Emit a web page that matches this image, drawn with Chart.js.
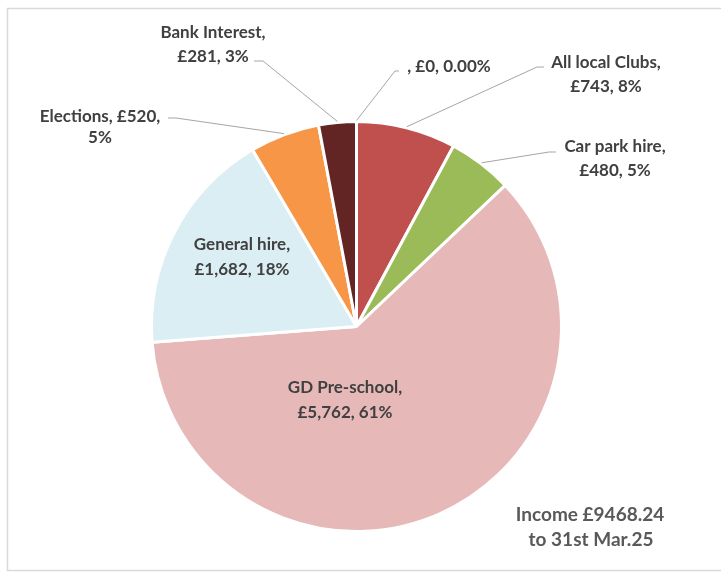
<!DOCTYPE html>
<html>
<head>
<meta charset="utf-8">
<script src="https://cdn.jsdelivr.net/npm/chart.js@4"></script>
<style>
  html, body { margin: 0; padding: 0; background: #ffffff; }
  #wrap { width: 721px; height: 578px; position: relative; }
</style>
</head>
<body>
<div id="wrap"><canvas id="c" width="721" height="578"></canvas></div>
<script>
// ---- data (clockwise from 12 o'clock) ----
const categories = ["", "All local Clubs", "Car park hire", "GD Pre-school", "General hire", "Elections", "Bank Interest"];
const values = [0, 743, 480, 5762, 1682, 520, 281];
const sliceColors = ["#c0504d", "#c0504d", "#9bbb59", "#e6b9b8", "#dbeef4", "#f79646", "#632523"];
const noteLines = ["Income £9468.24", "to 31st Mar.25"];

// ---- label layout (text placement only) ----
// cx, cy: centre of first line; gap: line spacing; split: parts on first line
// line: [startX, startY, elbowX] or null
const labelLayout = [
  { cx: 449, cy: 67, gap: 24, split: 3, line: [399, 71, 395] },
  { cx: 606, cy: 63, gap: 24, split: 1, line: [544, 67, 537] },
  { cx: 615, cy: 147, gap: 24, split: 1, line: [556, 152, 549] },
  { cx: 345, cy: 388, gap: 25, split: 1, line: null },
  { cx: 242, cy: 245, gap: 25, split: 1, line: null },
  { cx: 100, cy: 117, gap: 21, split: 2, line: [168, 118, 176] },
  { cx: 213, cy: 33, gap: 24, split: 1, line: [254, 61, 263] }
];

const total = values.reduce((a, b) => a + b, 0);

function labelParts(i) {
  const v = values[i];
  const pct = v === 0 ? "0.00" : String(Math.round(v / total * 100));
  return [categories[i] + ",", "£" + v.toLocaleString("en-GB") + ",", pct + "%"];
}

const frameAndText = {
  id: "frameAndText",
  beforeDraw(chart) {
    const ctx = chart.ctx;
    ctx.save();
    ctx.fillStyle = "#ffffff";
    ctx.fillRect(0, 0, chart.width, chart.height);
    ctx.strokeStyle = "#d9d9d9";
    ctx.lineWidth = 1.5;
    ctx.strokeRect(7.5, 8.5, 760, 562);
    ctx.restore();
  },
  afterDatasetsDraw(chart) {
    const ctx = chart.ctx;
    const meta = chart.getDatasetMeta(0);
    ctx.save();
    ctx.font = "bold 17px Lato";
    ctx.fillStyle = "#404040";
    ctx.textAlign = "center";
    ctx.textBaseline = "middle";
    meta.data.forEach((arc, i) => {
      const L = labelLayout[i];
      const p = arc.getProps(["x", "y", "startAngle", "endAngle", "outerRadius"], true);
      if (L.line) {
        const mid = (p.startAngle + p.endAngle) / 2;
        const ex = p.x + Math.cos(mid) * (p.outerRadius + 1);
        const ey = p.y + Math.sin(mid) * (p.outerRadius + 1);
        ctx.strokeStyle = "#a6a6a6";
        ctx.lineWidth = 1;
        ctx.beginPath();
        ctx.moveTo(L.line[0], L.line[1]);
        ctx.lineTo(L.line[2], L.line[1]);
        ctx.lineTo(ex, ey);
        ctx.stroke();
      }
      const parts = labelParts(i);
      const l1 = parts.slice(0, L.split).join(" ");
      const l2 = parts.slice(L.split).join(" ");
      ctx.fillText(l1, L.cx, L.cy);
      if (l2) ctx.fillText(l2, L.cx, L.cy + L.gap);
    });
    ctx.font = "bold 19px Lato";
    ctx.fillStyle = "#595959";
    ctx.fillText(noteLines[0], 590, 515);
    ctx.fillText(noteLines[1], 591, 540);
    ctx.restore();
  }
};

new Chart(document.getElementById("c"), {
  type: "pie",
  data: {
    labels: categories,
    datasets: [{
      data: values,
      backgroundColor: sliceColors,
      borderColor: "#ffffff",
      borderWidth: 3
    }]
  },
  options: {
    responsive: false,
    animation: false,
    events: [],
    layout: { padding: { left: 150, right: 158, top: 120, bottom: 45 } },
    plugins: {
      legend: { display: false },
      tooltip: { enabled: false }
    }
  },
  plugins: [frameAndText]
});
</script>
</body>
</html>
